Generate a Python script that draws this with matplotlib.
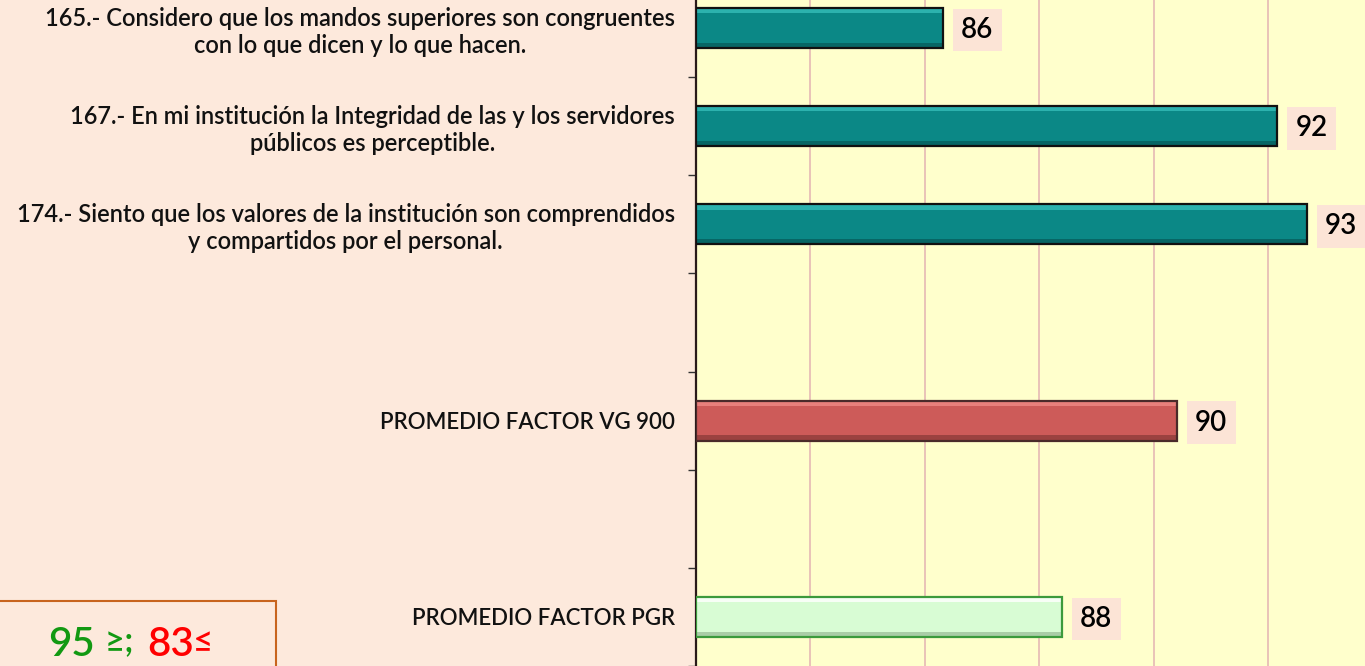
import numpy as np
import matplotlib.pyplot as plt
from matplotlib.ticker import FixedLocator

# Data
labels = [
    "165.- Considero que los mandos superiores son congruentes\ncon lo que dicen y lo que hacen.",
    "167.- En mi institución la Integridad de las y los servidores\npúblicos es perceptible.",
    "174.- Siento que los valores de la institución son comprendidos\ny compartidos por el personal.",
    "",
    "PROMEDIO FACTOR VG 900",
    "",
    "PROMEDIO FACTOR PGR",
]
bar_slots = [0, 1, 2, 4, 6]
values = [86.32, 92.16, 92.68, 90.41, 88.40]
value_labels = ["86", "92", "93", "90", "88"]

face = ["#0b8886", "#0b8886", "#0b8886", "#cd5b59", "#d8fcd4"]
light = ["#35bdb9", "#35bdb9", "#35bdb9", "#f08a86", "#ffffff"]
dark = ["#05504f", "#05504f", "#05504f", "#7a3230", "#8cae8a"]
edge = ["#111111", "#111111", "#111111", "#4a2a2a", "#3c9a3c"]

x_min, x_max = 82, 93.69

plt.rcParams['font.family'] = ['Lato', 'DejaVu Sans']

fig = plt.figure(figsize=(13.65, 6.66), dpi=100)
fig.patch.set_facecolor("#fde9dc")
ax = fig.add_axes([695.5 / 1365, 0.0, 1 - 695.5 / 1365, 687 / 666])
ax.set_facecolor("#ffffcc")

h = 0.41
for slot, v, fc, lc, dc, ec in zip(bar_slots, values, face, light, dark, edge):
    w = v - x_min
    ax.barh(slot, w, left=x_min, height=h, color=fc, zorder=3)
    # bevel: light top strip, dark bottom strip
    ax.barh(slot - h / 2 + 0.03, w, left=x_min, height=0.05, color=lc, alpha=0.8, zorder=4)
    ax.barh(slot + h / 2 - 0.03, w, left=x_min, height=0.05, color=dc, alpha=0.6, zorder=4)
    ax.barh(slot, w, left=x_min, height=h, facecolor="none", edgecolor=ec, linewidth=1.6, zorder=5)

for slot, v, txt in zip(bar_slots, values, value_labels):
    ax.annotate(txt, (v, slot + 0.02), xytext=(13, 0), textcoords="offset points",
                ha="left", va="center", fontsize=20, fontweight="semibold", color="black",
                bbox=dict(boxstyle="square,pad=0.3", facecolor="#fce4d6", edgecolor="none"),
                zorder=6)

ax.set_xlim(x_min, x_max)
ax.set_ylim(6.5, -0.5)
ax.set_xticks([84, 86, 88, 90, 92])
ax.xaxis.grid(True, color="#e3b3b3", linewidth=1.1, zorder=0)
ax.tick_params(axis="x", bottom=False, labelbottom=False)

ax.set_yticks(range(len(labels)))
ax.set_yticklabels(labels, fontsize=17, fontweight="semibold", color="#111111")
for lbl in ax.get_yticklabels():
    lbl.set_multialignment("center")
    lbl.set_linespacing(1.2)
    if lbl.get_text().startswith("PROMEDIO"):
        lbl.set_fontsize(16)
ax.tick_params(axis="y", which="major", length=0, pad=15)
ax.yaxis.set_minor_locator(FixedLocator(np.arange(-0.5, 7, 1)))
ax.tick_params(axis="y", which="minor", length=6, width=1, color="#333333")

for s in ["top", "right", "bottom"]:
    ax.spines[s].set_visible(False)
ax.spines["left"].set_color("#2a1a1a")
ax.spines["left"].set_linewidth(1.6)

# threshold box at bottom left
box = plt.Rectangle((-5 / 1365, -10 / 666), 281 / 1365, 75 / 666, transform=fig.transFigure,
                    facecolor="none", edgecolor="#c8641e", linewidth=1.5)
fig.patches.append(box)
fig.text(48 / 1365, 10 / 666, "95", color="#129912", fontsize=29, fontweight="semibold", va="baseline", ha="left")
fig.text(105 / 1365, 14 / 666, "≥;", color="#129912", fontsize=25, fontweight="semibold", va="baseline", ha="left")
fig.text(147 / 1365, 10 / 666, "83", color="#ff0000", fontsize=29, fontweight="semibold", va="baseline", ha="left")
fig.text(193 / 1365, 14 / 666, "≤", color="#ff0000", fontsize=25, fontweight="semibold", va="baseline", ha="left")

fig.savefig("out.png", dpi=100, facecolor=fig.get_facecolor())
